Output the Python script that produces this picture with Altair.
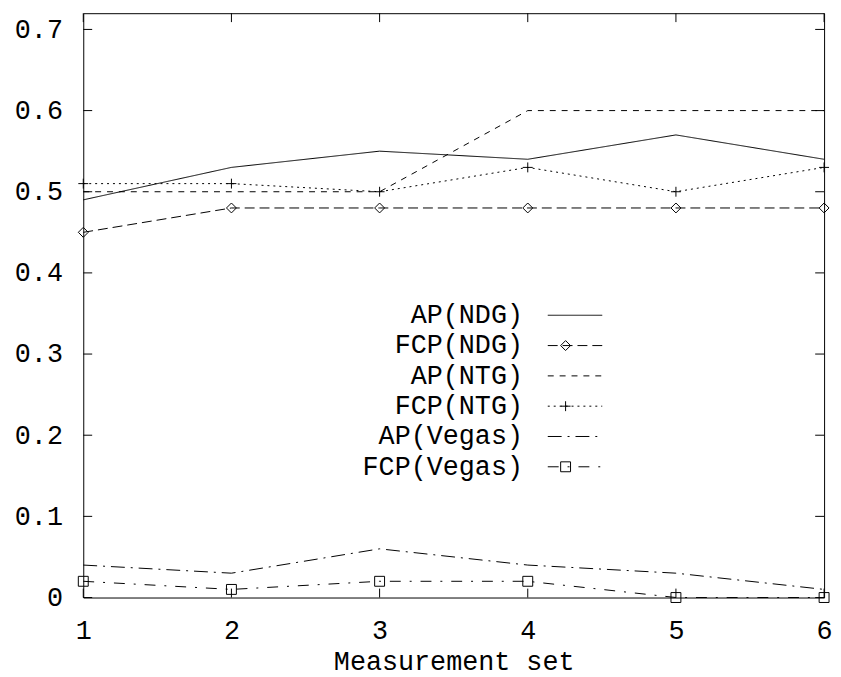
import altair as alt
import pandas as pd

# ---- data ----
x_sets = [1, 2, 3, 4, 5, 6]
series_names = ["AP(NDG)", "FCP(NDG)", "AP(NTG)", "FCP(NTG)", "AP(Vegas)", "FCP(Vegas)"]
ap_ndg = [0.49, 0.53, 0.55, 0.54, 0.57, 0.54]
fcp_ndg = [0.45, 0.48, 0.48, 0.48, 0.48, 0.48]
ap_ntg = [0.50, 0.50, 0.50, 0.60, 0.60, 0.60]
fcp_ntg = [0.51, 0.51, 0.50, 0.53, 0.50, 0.53]
ap_vegas = [0.04, 0.03, 0.06, 0.04, 0.03, 0.01]
fcp_vegas = [0.02, 0.01, 0.02, 0.02, 0.00, 0.00]
y_ticks = [0.0, 0.1, 0.2, 0.3, 0.4, 0.5, 0.6, 0.7]
x_ticks = [1, 2, 3, 4, 5, 6]
marker_series = ["FCP(NDG)", "FCP(NTG)", "FCP(Vegas)"]

all_values = [ap_ndg, fcp_ndg, ap_ntg, fcp_ntg, ap_vegas, fcp_vegas]
rows = []
for name, vals in zip(series_names, all_values):
    for x, v in zip(x_sets, vals):
        rows.append({"series": name, "set": x, "value": v})
df = pd.DataFrame(rows)
legend_df = pd.DataFrame({"series": series_names, "i": list(range(len(series_names)))})
yt_df = pd.DataFrame({"t": y_ticks})
xt_df = pd.DataFrame({"t": x_ticks})

FONT = "Liberation Mono"
FS = 27
W, H = 748, 590

dash_scale = alt.Scale(
    domain=series_names,
    range=[[1, 0], [10, 5], [6, 6], [2, 4], [14, 6, 2, 6], [11, 9, 2, 9]],
)
shape_scale = alt.Scale(
    domain=marker_series,
    range=["diamond", "M-1,0H1M0,-1V1", "square"],
)

x_enc = alt.X(
    "set:Q",
    scale=alt.Scale(domain=[1, 6], nice=False),
    axis=alt.Axis(
        values=x_ticks, title="Measurement set", grid=False, ticks=False, domain=False,
        labelFlush=False, labelOverlap=False, labelPadding=20, format="d",
        titlePadding=6,
        labelFont=FONT, labelFontSize=FS, labelColor="black",
        titleFont=FONT, titleFontSize=FS, titleFontWeight="normal", titleColor="black",
    ),
)
y_enc = alt.Y(
    "value:Q",
    scale=alt.Scale(domain=[0, 0.72], nice=False, zero=True),
    axis=alt.Axis(
        values=y_ticks, title=None, grid=False, ticks=False, domain=False,
        labelFlush=False, labelOverlap=False, labelPadding=21,
        labelExpr="datum.value == 0 ? '0' : format(datum.value, '.1f')",
        labelFont=FONT, labelFontSize=FS, labelColor="black",
    ),
)

lines = alt.Chart(df).mark_line(color="black", strokeWidth=1).encode(
    x=x_enc,
    y=y_enc,
    strokeDash=alt.StrokeDash("series:N", scale=dash_scale, legend=None),
    detail="series:N",
)

points = alt.Chart(df).transform_filter(
    alt.FieldOneOfPredicate(field="series", oneOf=marker_series)
).mark_point(color="black", filled=False, strokeWidth=1, size=100, opacity=1).encode(
    x="set:Q",
    y="value:Q",
    shape=alt.Shape("series:N", scale=shape_scale, legend=None),
)

# inward ticks on all four sides (gnuplot style)
tick_len = 9
y_left = alt.Chart(yt_df).mark_rule(color="black", strokeWidth=1).encode(
    y="t:Q", x=alt.value(0), x2=alt.value(tick_len))
y_right = alt.Chart(yt_df).mark_rule(color="black", strokeWidth=1).encode(
    y="t:Q", x=alt.value(W), x2=alt.value(W - tick_len))
x_bottom = alt.Chart(xt_df).mark_rule(color="black", strokeWidth=1).encode(
    x="t:Q", y=alt.value(H), y2=alt.value(H - tick_len))
x_top = alt.Chart(xt_df).mark_rule(color="black", strokeWidth=1).encode(
    x="t:Q", y=alt.value(0), y2=alt.value(tick_len))

# key
leg_base = alt.Chart(legend_df).transform_calculate(py="305 + 30.6 * datum.i")
leg_text = leg_base.mark_text(
    align="right", baseline="middle", font=FONT, fontSize=FS, color="black"
).encode(x=alt.value(444), y=alt.Y("py:Q", scale=None), text="series:N")
leg_line = leg_base.mark_rule(color="black", strokeWidth=1).encode(
    x=alt.value(469), x2=alt.value(524), y=alt.Y("py:Q", scale=None),
    strokeDash=alt.StrokeDash("series:N", scale=dash_scale, legend=None),
)
leg_pts = leg_base.transform_filter(
    alt.FieldOneOfPredicate(field="series", oneOf=marker_series)
).mark_point(color="black", filled=False, strokeWidth=1, size=100, opacity=1).encode(
    x=alt.value(487), y=alt.Y("py:Q", scale=None),
    shape=alt.Shape("series:N", scale=shape_scale, legend=None),
)

chart = alt.layer(
    lines, points, y_left, y_right, x_bottom, x_top, leg_line, leg_pts, leg_text
).properties(
    width=W, height=H,
    autosize=alt.AutoSizeParams(type="none"),
    padding={"left": 76, "top": 2, "right": 9, "bottom": 77},
    background="white",
).configure_view(
    stroke="black", strokeWidth=1
)

chart.save("out.html", embed_options={"renderer": "svg", "actions": False})
